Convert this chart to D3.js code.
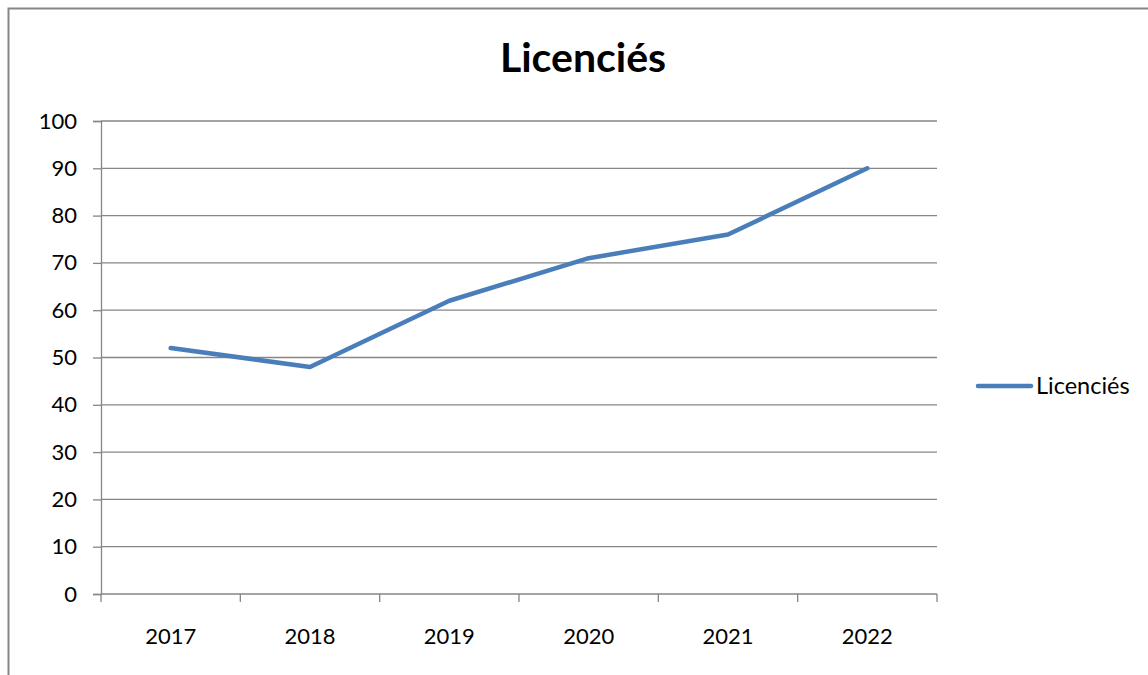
<!DOCTYPE html>
<html>
<head>
<meta charset="utf-8">
<script src="https://cdn.jsdelivr.net/npm/d3@7"></script>
<style>
  body { margin: 0; background: #fff; }
  svg { display: block; font-family: Lato, "Open Sans", sans-serif; }
</style>
</head>
<body>
<script>
const width = 1148;
const height = 675;

const years = ["2017", "2018", "2019", "2020", "2021", "2022"];
const licencies = [52, 48, 62, 71, 76, 90];
const yTicks = [0, 10, 20, 30, 40, 50, 60, 70, 80, 90, 100];
const seriesName = "Licenciés";
const chartTitle = "Licenciés";

const plot = { left: 101, right: 937, top: 121, bottom: 594 };
const lineColor = "#4a7ebb";
const gridColor = "#868686";

const xScale = d3.scaleBand()
                  .domain(years)
                  .range([plot.left, plot.right]);

const yScale = d3.scaleLinear()
                  .domain([0, 100])
                  .range([plot.bottom, plot.top]);

const svg = d3.select("body")
          .append("svg")
            .attr("width", width)
            .attr("height", height);

// outer chart border (runs off the right and bottom edge)
svg.append("rect")
  .attr("x", 8.5)
  .attr("y", 8.5)
  .attr("width", width + 20)
  .attr("height", height + 20)
  .attr("fill", "none")
  .attr("stroke", gridColor)
  .attr("stroke-width", 2);

svg.append("text")
  .attr("x", 583)
  .attr("y", 72)
  .attr("text-anchor", "middle")
  .attr("font-size", 41)
  .attr("font-weight", "bold")
  .text(chartTitle);

// gridlines
svg.append("g")
  .selectAll("line")
  .data(yTicks.filter(function(d) { return d > 0; }))
  .enter()
  .append("line")
    .attr("x1", plot.left)
    .attr("x2", plot.right)
    .attr("y1", function(d) { return yScale(d); })
    .attr("y2", function(d) { return yScale(d); })
    .attr("stroke", gridColor)
    .attr("stroke-width", 1.3);

// y axis
const yAxis = svg.append("g")
  .attr("transform", "translate(" + plot.left + ",0)")
  .call(d3.axisLeft(yScale).tickValues(yTicks).tickSize(8).tickPadding(16));

// x axis
const xAxis = svg.append("g")
  .attr("transform", "translate(0," + plot.bottom + ")")
  .call(d3.axisBottom(xScale).tickSize(0).tickPadding(34));

xAxis.selectAll(".tick-mark")
  .data(d3.range(years.length + 1))
  .enter()
  .append("line")
    .attr("x1", function(i) { return plot.left + i * xScale.step(); })
    .attr("x2", function(i) { return plot.left + i * xScale.step(); })
    .attr("y1", 0)
    .attr("y2", 8)
    .attr("stroke", gridColor)
    .attr("stroke-width", 1.3);

[yAxis, xAxis].forEach(function(ax) {
  ax.selectAll(".domain").attr("stroke", gridColor).attr("stroke-width", 1.3);
  ax.selectAll(".tick line").attr("stroke", gridColor).attr("stroke-width", 1.3);
  ax.selectAll("text").attr("font-size", 22).attr("fill", "#000")
    .attr("font-family", "Lato, sans-serif");
});

xAxis.select(".domain").attr("d", "M" + plot.left + ",0H" + plot.right);

const line = d3.line()
  .x(function(d, i) { return xScale(years[i]) + xScale.bandwidth() / 2; })
  .y(function(d) { return yScale(d); });

svg.append("path")
  .datum(licencies)
  .attr("d", line)
  .attr("fill", "none")
  .attr("stroke", lineColor)
  .attr("stroke-width", 4.5)
  .attr("stroke-linecap", "round")
  .attr("stroke-linejoin", "round");

// legend
svg.append("line")
  .attr("x1", 978)
  .attr("x2", 1031)
  .attr("y1", 386)
  .attr("y2", 386)
  .attr("stroke", lineColor)
  .attr("stroke-width", 4.5)
  .attr("stroke-linecap", "round");

svg.append("text")
  .attr("x", 1036)
  .attr("y", 394)
  .attr("font-size", 23.5)
  .text(seriesName);
</script>
</body>
</html>
